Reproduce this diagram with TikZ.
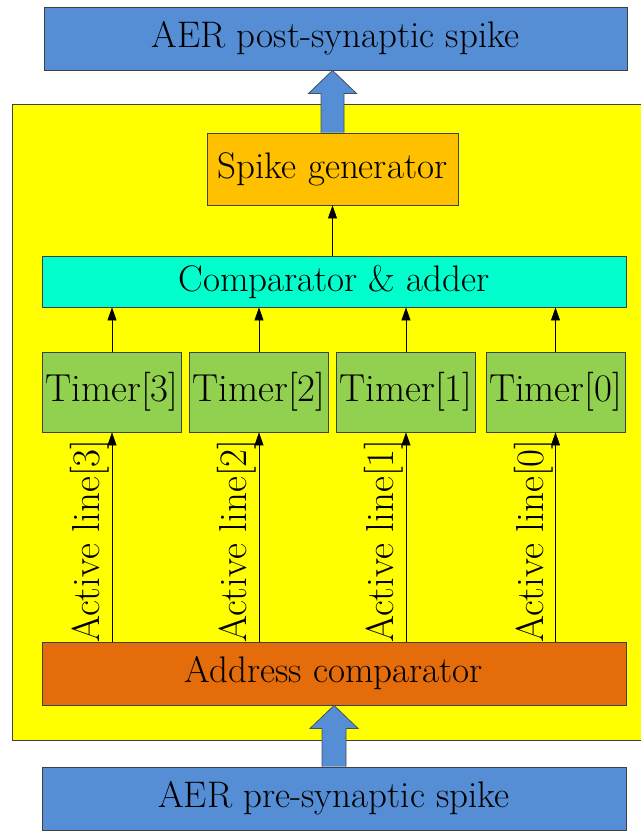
\documentclass[tikz,border=0pt]{standalone}
\usetikzlibrary{arrows.meta,calc}
\definecolor{aerblue}{HTML}{558ED5}
\definecolor{frameyellow}{HTML}{FFFF00}
\definecolor{genorange}{HTML}{FFC000}
\definecolor{cmpcyan}{HTML}{00FFCC}
\definecolor{timergreen}{HTML}{92D050}
\definecolor{addrorange}{HTML}{E46C0A}
\definecolor{edge}{HTML}{404040}
\tikzset{
  box/.style={draw=edge, line width=0.9pt, inner sep=0pt, align=center,
    font=\rmfamily\fontsize{37}{42}\selectfont},
  timerbox/.style={box, fill=timergreen, minimum width=139pt, minimum height=80pt,
    font=\rmfamily\fontsize{39}{42}\selectfont},
  sig/.style={draw=black, line width=0.7pt, -{Triangle[length=13pt,width=9pt]}},
  lbl/.style={rotate=90, anchor=south, inner sep=2pt, font=\rmfamily\fontsize{39}{42}\selectfont},
  bigarrow/.style={fill=aerblue, draw=edge!80!aerblue, line width=0.8pt}
}
\begin{document}
\begin{tikzpicture}[x=1pt,y=-1pt]
\useasboundingbox (0,0) rectangle (640,832);
\fill[white] (0,0) rectangle (640,832);
% enclosing neuron block
\draw[fill=frameyellow, draw=edge, line width=0.9pt] (12,104) rectangle (660,740);

\node[box, fill=aerblue, minimum width=583pt, minimum height=63pt] (post) at (335.5,38.5) {AER post-synaptic spike};
\node[box, fill=genorange, minimum width=251pt, minimum height=72pt] (gen) at (332.5,169) {Spike generator};
\node[box, fill=cmpcyan, minimum width=584pt, minimum height=51pt] (cmp) at (334,281.5) {Comparator \& adder};
\foreach \n/\x in {3/112,2/259,1/406,0/555.5}{
  \node[timerbox] (t\n) at (\x,392) {Timer[\n]};
}
\node[box, fill=addrorange, minimum width=584pt, minimum height=63pt] (addr) at (334,673.5) {Address comparator};
\node[box, fill=aerblue, minimum width=584pt, minimum height=63pt] (pre) at (334,798.5) {AER pre-synaptic spike};

% thin signal arrows
\draw[sig] (cmp.north -| gen) -- (gen.south);
\foreach \n in {3,2,1,0}{
  \draw[sig] (t\n.north) -- (t\n.north |- cmp.south);
  \draw[sig] (addr.north -| t\n) -- (t\n.south) node[lbl, pos=0.48] {Active line[\n]};
}

% block arrow: spike generator to post-synaptic output
\coordinate (ua) at (gen.north);
\coordinate (ub) at (post.south -| gen.north);
\draw[bigarrow] ($(ua)+(-11.5,0)$) -- ($(ub)+(-11.5,23)$) -- ($(ub)+(-24,23)$) -- (ub)
  -- ($(ub)+(24,23)$) -- ($(ub)+(11.5,23)$) -- ($(ua)+(11.5,0)$);
% block arrow: pre-synaptic input to address comparator
\coordinate (da) at (pre.north);
\coordinate (db) at (addr.south -| pre.north);
\draw[bigarrow] ($(da)+(-12,0)$) -- ($(db)+(-12,23)$) -- ($(db)+(-24,23)$) -- (db)
  -- ($(db)+(24,23)$) -- ($(db)+(12,23)$) -- ($(da)+(12,0)$);
\end{tikzpicture}
\end{document}
